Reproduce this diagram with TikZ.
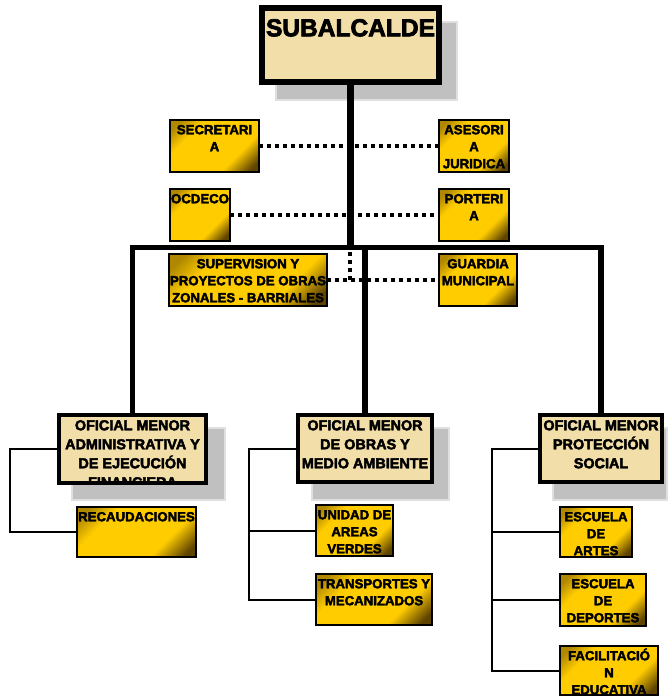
\documentclass[tikz,border=0pt]{standalone}
\usepackage{fontspec}
\setmainfont{Liberation Sans}
\newfontfamily\hv{Liberation Sans}[UprightFont={* Bold}, UprightFeatures={FakeBold=3}, BoldFont={* Bold}, BoldFeatures={FakeBold=3}]
\definecolor{parch}{RGB}{242,222,168}
\definecolor{gmain}{RGB}{255,204,0}
\definecolor{gdka}{RGB}{175,135,0}
\definecolor{gdkb}{RGB}{95,68,0}
\definecolor{shgray}{RGB}{192,192,192}
\definecolor{shline}{RGB}{224,224,224}
\pgfdeclareverticalshading{goldsh}{100bp}{color(0bp)=(gdkb); color(20bp)=(gdkb); color(34bp)=(gmain); color(68bp)=(gmain); color(80bp)=(gdka); color(100bp)=(gdka)}
\pgfdeclarelayer{shadowlayer}
\pgfdeclarelayer{bglayer}
\pgfsetlayers{shadowlayer,bglayer,main}
\newcommand\bx[6]{\node[#1, anchor=north west, minimum width={(#5-#3)*0.75pt}, minimum height={(#6-#4)*0.75pt}] (#2) at (#3,#4) {};}
\newcommand\gstr{\rule{0pt}{10.5pt}}
\newcommand\mstr{\rule{0pt}{11.25pt}}
\newcommand\tstr{\rule{0pt}{21pt}}
\tikzset{
  topbox/.style={draw, line width=4.5pt, fill=parch, inner sep=0pt, outer sep=0pt},
  midbox/.style={draw, line width=3.4pt, fill=parch, inner sep=0pt, outer sep=0pt},
  goldbox/.style={draw, line width=1.9pt, shade, shading=goldsh, shading angle=45, inner sep=0pt, outer sep=0pt},
  shadowbox/.style={fill=shgray, draw=shline, line width=1.2pt},
  gtext/.style={font=\hv\fontsize{9.9}{12.75}\selectfont, align=center, inner sep=0pt, anchor=north},
  mtext/.style={font=\hv\fontsize{10.8}{14.25}\selectfont, align=center, inner sep=0pt, anchor=north},
  ttext/.style={font=\hv\fontsize{18.4}{22}\selectfont, align=center, inner sep=0pt, anchor=north},
  trunk/.style={line width=5.25pt},
  trunkh/.style={line width=4.1pt, line join=miter},
  dots/.style={line width=3pt, dash pattern=on 3pt off 3pt},
  bracket/.style={line width=1.5pt}
}
\begin{document}
\begin{tikzpicture}[x=0.75pt,y=-0.75pt]
\useasboundingbox (0,0) rectangle (669,697);
\begin{pgfonlayer}{shadowlayer}
\filldraw[shadowbox] (276,22) rectangle (457,100);
\filldraw[shadowbox] (72,428) rectangle (225,500);
\filldraw[shadowbox] (312,428) rectangle (449,500);
\filldraw[shadowbox] (553,428) rectangle (667,500);
\end{pgfonlayer}
% boxes
\bx{topbox}{sub}{262}{8}{439}{82}
\bx{midbox}{lb}{59}{415}{206}{483}
\bx{midbox}{mb}{298}{415}{432}{482}
\bx{midbox}{rb}{540}{415}{662}{482}
\bx{goldbox}{sec}{170}{120}{259}{172}
\bx{goldbox}{ase}{439}{120}{509}{172}
\bx{goldbox}{ocd}{170}{189}{230}{241}
\bx{goldbox}{por}{439}{189}{509}{241}
\bx{goldbox}{sup}{169}{254}{327}{306}
\bx{goldbox}{gua}{439}{254}{517}{306}
\bx{goldbox}{rec}{77}{507}{196}{557}
\bx{goldbox}{uni}{316}{505}{393}{556}
\bx{goldbox}{tra}{316}{574}{432}{625}
\bx{goldbox}{art}{560}{507}{632}{557}
\bx{goldbox}{dep}{560}{574}{646}{626}
\bx{goldbox}{fac}{560}{646}{658}{695}
\coordinate (bar) at (350,247.5);
\coordinate (lbk) at (10,449);
\coordinate (mbk) at (249,449);
\coordinate (rbk) at (492,449);
\begin{pgfonlayer}{bglayer}
\draw[dots] (sec.east) -- (ase.west);
\draw[dots] (ocd.east) -- (por.west);
\draw[dots] (sup.east) -- (gua.west);
\draw[dots] (sup.east -| bar) -- (bar);
\draw[trunk] (sub.south) -- (sub.south |- bar);
\draw[trunkh] (lb.north) -- (lb.north |- bar) -- (rb.north |- bar) -- (rb.north);
\draw[trunkh] (mb.north) -- (mb.north |- bar);
\draw[bracket] (lb.west) -| (lbk |- rec.west) -- (rec.west);
\draw[bracket] (mb.west) -| (mbk |- tra.west) -- (tra.west);
\draw[bracket] (mbk |- uni.west) -- (uni.west);
\draw[bracket] (rb.west) -| (rbk |- fac.west) -- (fac.west);
\draw[bracket] (rbk |- art.west) -- (art.west);
\draw[bracket] (rbk |- dep.west) -- (dep.west);
\end{pgfonlayer}
% texts
\node[ttext] (sub-t) at (sub.north) {\tstr SUBALCALDE};
\node[gtext] (sec-t) at (sec.north) {\gstr SECRETARI\\A};
\node[gtext] (ase-t) at (ase.north) {\gstr ASESORI\\A\\JURIDICA};
\node[gtext] (ocd-t) at (ocd.north) {\gstr OCDECO};
\node[gtext] (por-t) at (por.north) {\gstr PORTERI\\A};
\node[gtext] (sup-t) at (sup.north) {\gstr SUPERVISION Y\\PROYECTOS DE OBRAS\\ZONALES - BARRIALES};
\node[gtext] (gua-t) at (gua.north) {\gstr GUARDIA\\MUNICIPAL};
\begin{scope}
\clip (lb.south west) rectangle (lb.north east);
\node[mtext] (lb-t) at (lb.north) {\mstr OFICIAL MENOR\\ADMINISTRATIVA Y\\DE EJECUCIÓN\\FINANCIERA};
\end{scope}
\draw[line width=3.4pt] (lb.south west) rectangle (lb.north east);
\node[mtext] (mb-t) at (mb.north) {\mstr OFICIAL MENOR\\DE OBRAS Y\\MEDIO AMBIENTE};
\node[mtext] (rb-t) at (rb.north) {\mstr OFICIAL MENOR\\PROTECCIÓN\\SOCIAL};
\node[gtext] (rec-t) at (rec.north) {\gstr RECAUDACIONES};
\node[gtext] (uni-t) at (uni.north) {\gstr UNIDAD DE\\AREAS\\VERDES};
\node[gtext] (tra-t) at (tra.north) {\gstr TRANSPORTES Y\\MECANIZADOS};
\node[gtext] (art-t) at (art.north) {\gstr ESCUELA\\DE\\ARTES};
\node[gtext] (dep-t) at (dep.north) {\gstr ESCUELA\\DE\\DEPORTES};
\node[gtext] (fac-t) at (fac.north) {\gstr FACILITACIÓ\\N\\EDUCATIVA};
\end{tikzpicture}
\end{document}
